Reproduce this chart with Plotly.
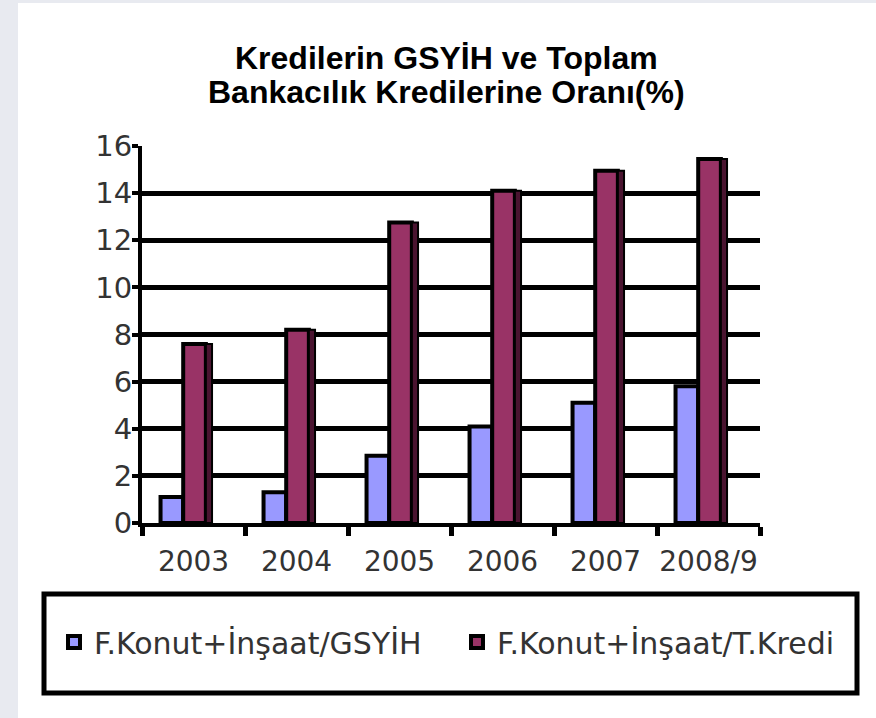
import plotly.graph_objects as go

categories = ["2003", "2004", "2005", "2006", "2007", "2008/9"]
gsyih = [1.1, 1.3, 2.85, 4.1, 5.1, 5.8]
tkredi = [7.6, 8.2, 12.75, 14.1, 14.95, 15.45]
y_ticks = [0, 2, 4, 6, 8, 10, 12, 14, 16]
grid_vals = [2, 4, 6, 8, 10, 12, 14]

name1 = "F.Konut+İnşaat/GSYİH"
name2 = "F.Konut+İnşaat/T.Kredi"
title_line1 = "Kredilerin GSYİH ve Toplam"
title_line2 = "Bankacılık Kredilerine Oranı(%)"

fig = go.Figure()
fig.add_trace(go.Bar(
    x=categories, y=gsyih, name=name1, legend="legend",
    marker=dict(color="#9999ff", line=dict(color="black", width=4)),
    width=0.22, offset=-0.32,
))
fig.add_trace(go.Bar(
    x=categories, y=tkredi, name=name2, legend="legend2",
    marker=dict(color="#993366", line=dict(color="black", width=4)),
    width=0.22, offset=-0.10,
))
# 3D side face of the rear bars
fig.add_trace(go.Bar(
    x=categories, y=tkredi, showlegend=False, hoverinfo="skip",
    marker=dict(color="#4a1430", line=dict(color="black", width=2)),
    width=0.06, offset=0.12,
))

txt_family = "'DejaVu Sans', sans-serif"
title_font = dict(family="'Liberation Sans', Arial, sans-serif", size=32, color="black", weight="bold")
legend_font = dict(family=txt_family, size=30, color="#333")

fig.update_layout(
    width=876, height=718,
    margin=dict(l=142, r=116, t=146, b=195),
    paper_bgcolor="white",
    plot_bgcolor="rgba(0,0,0,0)",
    barmode="overlay",
    xaxis=dict(
        showline=True, linecolor="black", linewidth=4,
        ticks="outside", tickson="boundaries", ticklen=9, tickwidth=5, tickcolor="black",
        tickfont=dict(family=txt_family, size=28, color="#333"), tickangle=0, showgrid=False,
        ticklabelstandoff=10,
    ),
    yaxis=dict(
        range=[0, 16], tickvals=y_ticks, showline=True, linecolor="black", linewidth=4,
        ticks="outside", ticklen=6, tickwidth=4, tickcolor="black",
        tickfont=dict(family=txt_family, size=29, color="#333"), showgrid=False, zeroline=False,
        ticklabelstandoff=-6,
        minor=dict(tickvals=grid_vals, showgrid=True, gridcolor="black", gridwidth=4.5, ticks=""),
    ),
    showlegend=True,
    legend=dict(
        orientation="h", xref="container", yref="container",
        x=54 / 876, xanchor="left", y=1 - 642 / 718, yanchor="middle",
        font=legend_font, bgcolor="rgba(0,0,0,0)", borderwidth=0,
    ),
    legend2=dict(
        orientation="h", xref="container", yref="container",
        x=457 / 876, xanchor="left", y=1 - 642 / 718, yanchor="middle",
        font=legend_font, bgcolor="rgba(0,0,0,0)", borderwidth=0,
    ),
    annotations=[
        dict(text=title_line1, xref="paper", yref="paper", x=(446 - 142) / 618,
             y=(523 - 58) / 377, xanchor="center", yanchor="middle", showarrow=False, font=title_font),
        dict(text=title_line2, xref="paper", yref="paper", x=(446 - 142) / 618,
             y=(523 - 92) / 377, xanchor="center", yanchor="middle", showarrow=False, font=title_font),
    ],
    shapes=[
        dict(type="rect", xref="paper", yref="paper",
             x0=(44 - 142) / 618, x1=(857 - 142) / 618,
             y0=(523 - 693) / 377, y1=(523 - 594) / 377,
             line=dict(color="black", width=5), fillcolor="rgba(0,0,0,0)"),
        dict(type="rect", xref="paper", yref="paper",
             x0=-142 / 618, x1=(18 - 142) / 618, y0=-195 / 377, y1=523 / 377,
             line=dict(width=0), fillcolor="#e8eaf0", layer="below"),
        dict(type="rect", xref="paper", yref="paper",
             x0=-142 / 618, x1=734 / 618, y0=(523 - 3) / 377, y1=523 / 377,
             line=dict(width=0), fillcolor="#e8eaf0", layer="below"),
    ],
)

fig.write_html("out.html", config={"displayModeBar": False},
               post_script="document.body.style.margin='0';")
